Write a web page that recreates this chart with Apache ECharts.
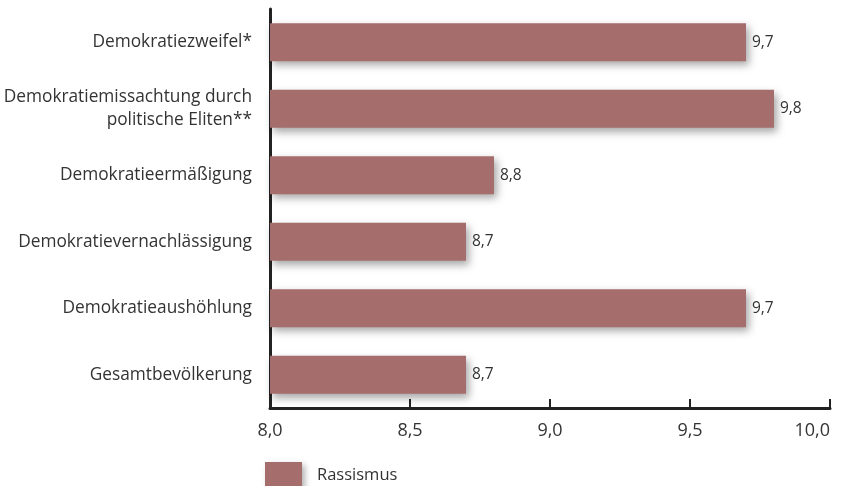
<!DOCTYPE html>
<html><head><meta charset="utf-8">
<script src="https://cdn.jsdelivr.net/npm/echarts@6/dist/echarts.min.js"></script>
<style>html,body{margin:0;padding:0;background:#fff;overflow:hidden}#c{width:845px;height:486px}</style>
</head><body><div id="c"></div>
<script>
const categories = ["Demokratiezweifel*", "Demokratiemissachtung durch\npolitische Eliten**", "Demokratieermäßigung", "Demokratievernachlässigung", "Demokratieaushöhlung", "Gesamtbevölkerung"];
const values = [9.7, 9.8, 8.8, 8.7, 9.7, 8.7];
const seriesName = "Rassismus";
const xMin = 8.0, xMax = 10.0, xStep = 0.5;

const fmt = v => v.toFixed(1).replace('.', ',');
const chart = echarts.init(document.getElementById('c'), null, {width: 845, height: 486});
chart.setOption({
  animation: false,
  textStyle: {fontFamily: "Open Sans"},
  grid: {left: 270, right: 15, top: 9, bottom: 78, containLabel: false, outerBoundsMode: 'none'},
  legend: {
    data: [{name: seriesName, icon: 'rect'}], left: 265, top: 462, padding: 0,
    itemWidth: 37, itemHeight: 26, itemGap: 10,
    itemStyle: {shadowBlur: 6, shadowOffsetX: 3, shadowOffsetY: 3, shadowColor: 'rgba(0,0,0,0.3)'},
    textStyle: {fontSize: 16.5, color: '#333', fontFamily: "Open Sans", padding: [0,0,0,10]}
  },
  xAxis: {
    type: 'value', min: xMin, max: xMax, interval: xStep,
    axisLine: {show: true, lineStyle: {color: '#222', width: 3}},
    axisTick: {show: true, inside: true, length: 9, lineStyle: {color: '#222', width: 2}},
    splitLine: {show: false},
    axisLabel: {formatter: v => fmt(v), fontSize: 18, color: '#333', margin: 14, alignMaxLabel: 'right'}
  },
  yAxis: {
    type: 'category', data: categories.slice().reverse(),
    axisLine: {show: true, lineStyle: {color: '#222', width: 3}},
    axisTick: {show: false},
    axisLabel: {fontSize: 17.3, color: '#333', margin: 18, lineHeight: 23, align: 'right'}
  },
  series: [{
    name: seriesName, type: 'bar', data: values.slice().reverse(), barWidth: '57%',
    itemStyle: {color: '#a66d6d', shadowBlur: 8, shadowOffsetX: 3, shadowOffsetY: 4, shadowColor: 'rgba(0,0,0,0.35)'},
    label: {show: true, position: 'right', distance: 6, formatter: p => fmt(p.value), fontSize: 15.5, color: '#333'}
  }]
});
</script></body></html>
